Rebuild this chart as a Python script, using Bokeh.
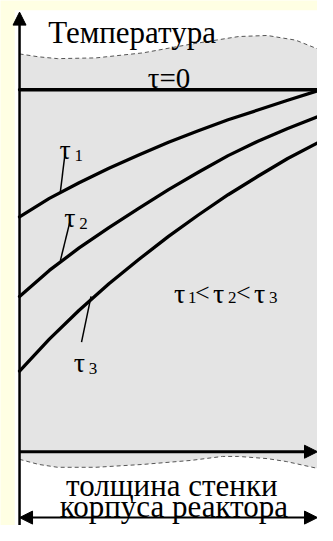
from bokeh.plotting import figure
from bokeh.models import ColumnDataSource, Range1d, Arrow, NormalHead
from bokeh.core.properties import value
from bokeh.embed import file_html
from bokeh.resources import INLINE

# ---- data: relative wall thickness (0 = inner surface, 1 = outer) and relative temperature
thickness = [0.0, 0.1, 0.2, 0.3, 0.4, 0.5, 0.6, 0.7, 0.8, 0.9, 1.0]
temp_tau0 = [1.0, 1.0, 1.0, 1.0, 1.0, 1.0, 1.0, 1.0, 1.0, 1.0, 1.0]
temp_tau1 = [0.649, 0.700, 0.743, 0.783, 0.820, 0.855, 0.887, 0.917, 0.944, 0.971, 0.997]
temp_tau2 = [0.429, 0.501, 0.563, 0.619, 0.672, 0.724, 0.772, 0.818, 0.858, 0.893, 0.925]
temp_tau3 = [0.223, 0.311, 0.391, 0.464, 0.531, 0.595, 0.654, 0.710, 0.761, 0.810, 0.853]

y_title = "Температура"
x_title = ["толщина стенки", "корпуса реактора"]
tau0_label = "τ=0"
tau_subs = ["1", "2", "3"]

# ---- decoration (wavy edges of the shaded block), in data units
wave_top_x = [0.0, 0.064, 0.128, 0.256, 0.415, 0.575, 0.735, 0.831, 0.927, 1.0]
wave_top_y = [1.099, 1.091, 1.086, 1.088, 1.102, 1.126, 1.147, 1.150, 1.137, 1.113]
wave_bot_x = [0.0, 0.064, 0.128, 0.256, 0.415, 0.575, 0.681, 0.735, 0.831, 0.895, 1.0]
wave_bot_y = [-0.021, -0.035, -0.043, -0.043, -0.035, -0.024, -0.013, -0.013, -0.019, -0.027, -0.046]

YELLOW = "#FFFFE3"
GRAY = "#E4E4E4"

X0, X1 = -0.0639, 1.0
Y0, Y1 = -0.2038, 1.2466
W, H = 317, 525
UX = (X1 - X0) / W   # data units per screen px
UY = (Y1 - Y0) / H

p = figure(width=W, height=H, output_backend="svg", toolbar_location=None,
           x_range=Range1d(X0, X1), y_range=Range1d(Y0, Y1), min_border=0,
           background_fill_color=YELLOW, border_fill_color=YELLOW)
p.axis.visible = False
p.grid.visible = False
p.outline_line_color = None

# white panel
p.quad(left=-0.016, right=X1 + 0.05, bottom=Y0 - 0.05, top=1.220,
       fill_color="white", line_color=None)

# shaded region
px_ = wave_top_x + wave_bot_x[::-1]
py_ = wave_top_y + wave_bot_y[::-1]
p.patch(px_, py_, fill_color=GRAY, line_color=None)
p.line(wave_top_x, wave_top_y, line_color="#555555", line_width=1, line_dash="4 3")
p.line(wave_bot_x, wave_bot_y, line_color="#555555", line_width=1, line_dash="4 3")

# curves
for t in (temp_tau0, temp_tau1, temp_tau2, temp_tau3):
    p.line(thickness, t, line_color="black", line_width=3.3, line_join="round", line_cap="round")

# leader lines
leaders = dict(x0=[0.153, 0.169, 0.240], y0=[0.826, 0.635, 0.429],
               x1=[0.137, 0.137, 0.208], y1=[0.718, 0.528, 0.303])
p.segment(x0="x0", y0="y0", x1="x1", y1="y1", source=ColumnDataSource(leaders),
          line_color="black", line_width=1.5)

# axes
head = dict(size=13, fill_color="black", line_color="black")
p.add_layout(Arrow(end=NormalHead(**head), x_start=0, y_start=Y0, x_end=0, y_end=1.2145,
                   line_width=2.5, line_color="black"))
p.add_layout(Arrow(end=NormalHead(**head), x_start=0, y_start=0, x_end=1.0, y_end=0,
                   line_width=3, line_color="black"))
p.add_layout(Arrow(start=NormalHead(**head), end=NormalHead(**head), x_start=0, y_start=-0.182,
                   x_end=1.0, y_end=-0.182, line_width=2, line_color="black"))

def txt(xs, ys, texts, size, align="left"):
    p.text(x=xs, y=ys, text=texts, text_font=value("Times New Roman"), text_font_size=size,
           text_align=align, text_baseline="alphabetic", text_color="black")

# titles
txt([0.096], [1.158], [y_title], "31px")
txt([0.502], [1.032], [tau0_label], "29px", align="center")
txt([0.511, 0.518], [-0.094, -0.150], x_title, "31px", align="center")

# curve labels τ with subscripts
lab_x = [0.134, 0.150, 0.182]
lab_y = [0.836, 0.646, 0.247]
txt(lab_x, lab_y, ["τ", "τ", "τ"], "28px")
txt([x + 15 * UX for x in lab_x], [y - 6 * UY for y in lab_y], tau_subs, "17px")

# relation τ1<τ2<τ3
rx, ry = 0.518, 0.437
txt([rx + d * UX for d in (0, 39, 80)], [ry] * 3, ["τ", "τ", "τ"], "28px")
txt([rx + d * UX for d in (14, 54, 95)], [ry - 4 * UY] * 3, tau_subs, "17px")
txt([rx + d * UX for d in (21, 62)], [ry + 1 * UY] * 2, ["<", "<"], "26px")

open("out.html", "w").write(file_html(p, INLINE))
